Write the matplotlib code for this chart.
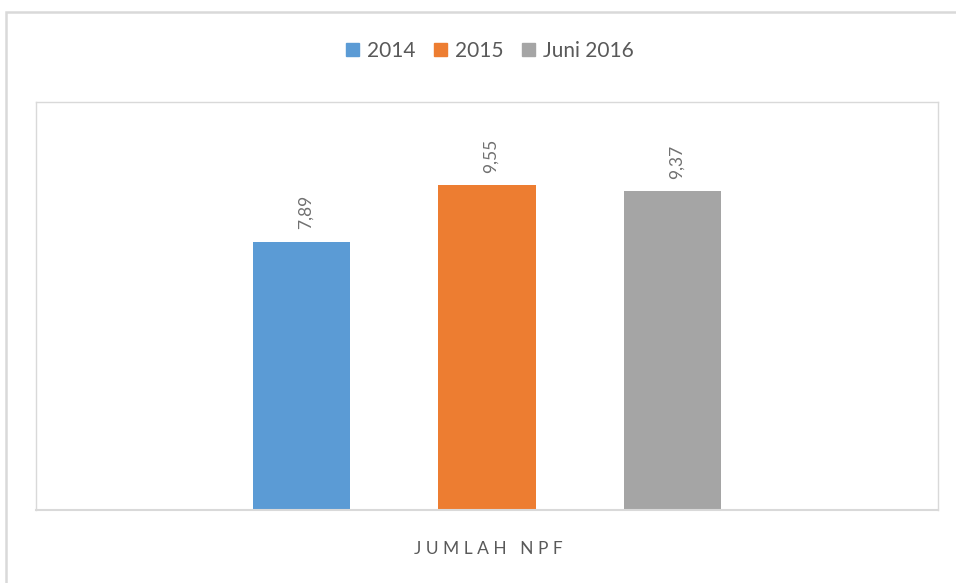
import matplotlib
matplotlib.use("Agg")
import matplotlib.pyplot as plt
from matplotlib.patches import Rectangle

plt.rcParams['font.family'] = ['Lato', 'DejaVu Sans']

categories = ["2014", "2015", "Juni 2016"]
values = [7.89, 9.55, 9.37]
labels = ["7,89", "9,55", "9,37"]
colors = ["#5B9BD5", "#ED7D31", "#A5A5A5"]
xlabel = "JUMLAH NPF"

W, H = 956, 583
fig = plt.figure(figsize=(W / 100, H / 100), dpi=100)
fig.patch.set_facecolor("white")

# outer chart border
fig.add_artist(Rectangle((6 / W, 0 - 0.01), 1.0, 1 - 12 / H + 0.01,
                         transform=fig.transFigure, fill=False,
                         edgecolor="#D9D9D9", linewidth=1.8, clip_on=False))

ax = fig.add_axes([36 / W, 1 - 510 / H, (938 - 36) / W, (510 - 102) / H])
x = list(range(len(values)))
bars = ax.bar(x, values, width=0.523, color=colors, label=categories, zorder=2)
ax.set_xlim(-1.431, 3.431)
ax.set_ylim(0, 12)
ax.set_xticks([])
ax.set_yticks([])
for s in ax.spines.values():
    s.set_color("#D9D9D9")
    s.set_linewidth(1.0)
ax.spines["bottom"].set_linewidth(1.5)

for xi, v, lab in zip(x, values, labels):
    ax.annotate(lab, (xi, v), xytext=(3, 9), textcoords="offset points",
                rotation=90, ha="center", va="bottom", fontsize=12.5,
                color="#707070")

handles = [Rectangle((0, 0), 1, 1, color=c) for c in colors]
fig.legend(handles, categories, loc="center", bbox_to_anchor=(490 / W, 1 - 51 / H),
           ncol=3, frameon=False, fontsize=15, handlelength=0.6, handleheight=0.6,
           handletextpad=0.4, columnspacing=0.9, labelcolor="#595959")

fig.text(488 / W, 1 - 549 / H, "J U M L A H   N P F",
         ha="center", va="center", fontsize=12.5, color="#595959")

fig.savefig("out.png", dpi=100, facecolor="white")
